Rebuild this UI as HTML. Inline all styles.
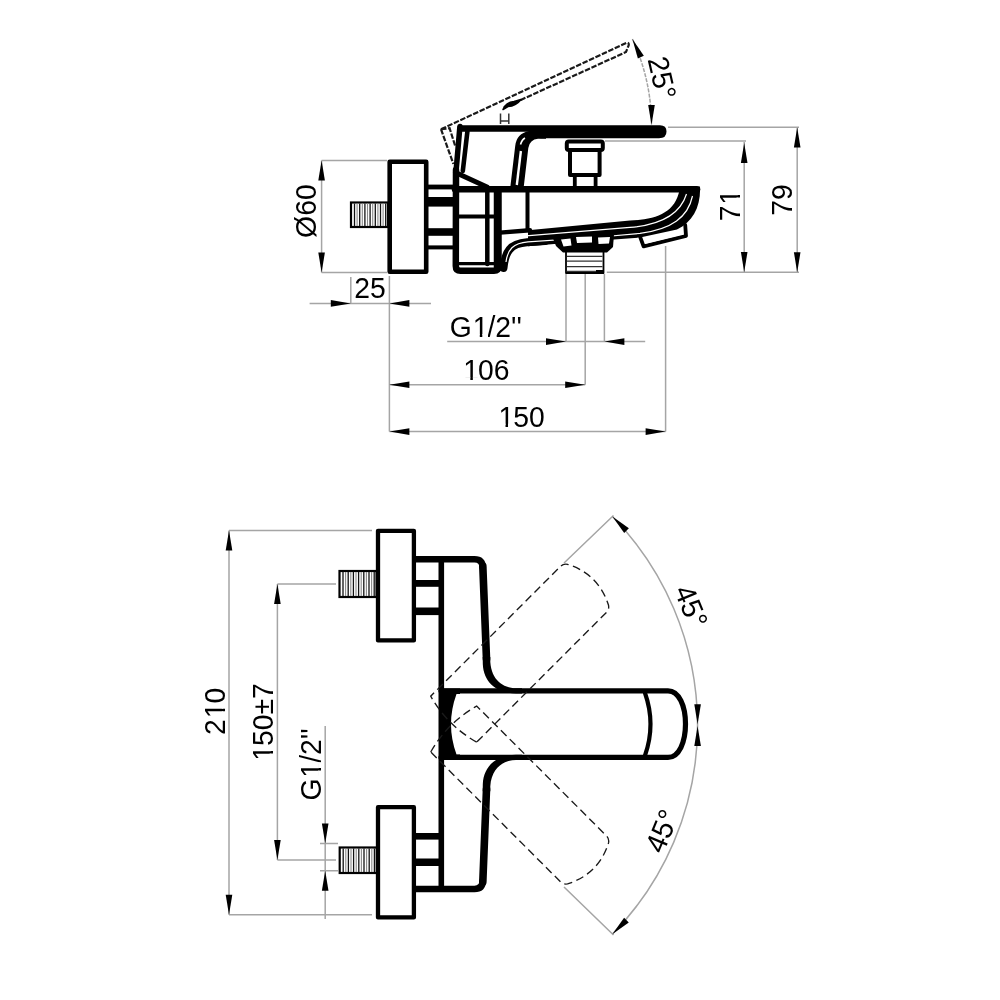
<!DOCTYPE html>
<html><head><meta charset="utf-8"><title>drawing</title>
<style>
html,body{margin:0;padding:0;background:#fff;overflow:hidden;}
svg{display:block;}
text{font-family:"Liberation Sans",sans-serif;font-size:28.3px;fill:#000;font-kerning:none;}
svg{-webkit-font-smoothing:antialiased;}
svg{will-change:transform;}
.k{fill:none;stroke:#000;stroke-linejoin:round;stroke-linecap:round;}
.d{fill:none;stroke:#a5a5a5;stroke-width:1.5;}
.h{fill:none;stroke:#1a1a1a;stroke-width:1.6;stroke-dasharray:8 4.5;}
.th{fill:none;stroke:#777;stroke-width:0.9;}
</style></head>
<body>
<svg width="1000" height="1000" viewBox="0 0 1000 1000">

<!-- ================= TOP VIEW ================= -->
<g id="top">
<!-- dimension lines -->
<g class="d">
  <!-- O60 -->
  <path d="M321.6,160.5 V272.5 M321.6,160.5 H387 M321.6,272.5 H387"/>
  <!-- 25 -->
  <path d="M309.6,303.4 H431 M350.8,277 V303.4 M389.4,276 V431.6"/>
  <!-- G1/2 -->
  <path d="M447.2,341.6 H645.2 M566,274 V341.6 M604.4,274 V341.6"/>
  <!-- 106 -->
  <path d="M389.4,384.8 H585.2 M585.2,274 V384.8"/>
  <!-- 150 -->
  <path d="M389.4,431.6 H665.6 M665.6,246 V431.6"/>
  <!-- 71 -->
  <path d="M744.2,142 V272 M605,140.9 H746"/>
  <!-- 79 -->
  <path d="M797.2,127.5 V272.2 M668,127.2 H799 M606.8,272.2 H799"/>
  <!-- 25 deg arc -->
  <path d="M632.4,39 A203.5,203.5 0 0 1 651.5,125" stroke-dasharray="4 1.2"/>
</g>
<path d="M0,0 L-20,-3.3 L-20,3.3 Z" transform="translate(321.6,160.5) rotate(-90)"/>
<path d="M0,0 L-20,-3.3 L-20,3.3 Z" transform="translate(321.6,272.5) rotate(90)"/>
<path d="M0,0 L-20,-3.3 L-20,3.3 Z" transform="translate(350.8,303.4)"/>
<path d="M0,0 L-20,-3.3 L-20,3.3 Z" transform="translate(389.4,303.4) rotate(180)"/>
<path d="M0,0 L-20,-3.3 L-20,3.3 Z" transform="translate(566,341.6)"/>
<path d="M0,0 L-20,-3.3 L-20,3.3 Z" transform="translate(604.4,341.6) rotate(180)"/>
<path d="M0,0 L-20,-3.3 L-20,3.3 Z" transform="translate(389.4,384.8) rotate(180)"/>
<path d="M0,0 L-20,-3.3 L-20,3.3 Z" transform="translate(585.2,384.8)"/>
<path d="M0,0 L-20,-3.3 L-20,3.3 Z" transform="translate(389.4,431.6) rotate(180)"/>
<path d="M0,0 L-20,-3.3 L-20,3.3 Z" transform="translate(665.6,431.6)"/>
<path d="M0,0 L-20,-3.3 L-20,3.3 Z" transform="translate(744.2,143) rotate(-90)"/>
<path d="M0,0 L-20,-3.3 L-20,3.3 Z" transform="translate(744.2,272) rotate(90)"/>
<path d="M0,0 L-20,-3.3 L-20,3.3 Z" transform="translate(797.2,127.5) rotate(-90)"/>
<path d="M0,0 L-20,-3.3 L-20,3.3 Z" transform="translate(797.2,272.2) rotate(90)"/>
<path d="M0,0 L-20,-3.3 L-20,3.3 Z" transform="translate(632.4,39) rotate(-115)"/>
<path d="M0,0 L-20,-3.3 L-20,3.3 Z" transform="translate(651.5,125) rotate(90)"/>


<!-- raised lever (dashed) -->
<g class="h" style="stroke-width:2.2;stroke-dasharray:5.5 1.6">
  <path d="M441,129.2 L627,42.5 Q630,43 628,47 L626,52 L504,107.6"/>
  <path d="M441,129.2 L453.4,164"/>
  <path d="M441,129.2 L449.6,128.2 L455.2,146"/>
</g>
<path d="M503,109.5 Q506,102 514,101.5 L521,99.5 Q516,106 508,106.5 Z" fill="#000" stroke="#000" stroke-width="1.5" stroke-linejoin="round"/>
<path d="M500.5,124 V113.5 M508.8,124 V113.5 M500.5,121 H508.8" fill="none" stroke="#333" stroke-width="1.5"/>

<!-- flange -->
<rect x="389.7" y="161.7" width="36.5" height="110.1" class="k" stroke-width="4.6"/>
<!-- thread -->
<g>
  <rect x="351" y="202.5" width="37" height="24.5" fill="#fff" stroke="#000" stroke-width="2.2"/>
  <path d="M354.5,203.5V226" stroke="#111" stroke-width="1.3"/>
  <path d="M357.1,203.5V226" stroke="#8a8a8a" stroke-width="1.1"/>
  <path d="M359.7,203.5V226" stroke="#111" stroke-width="1.3"/>
  <path d="M362.3,203.5V226" stroke="#8a8a8a" stroke-width="1.1"/>
  <path d="M364.9,203.5V226" stroke="#111" stroke-width="1.3"/>
  <path d="M367.5,203.5V226" stroke="#8a8a8a" stroke-width="1.1"/>
  <path d="M370.1,203.5V226" stroke="#111" stroke-width="1.3"/>
  <path d="M372.7,203.5V226" stroke="#8a8a8a" stroke-width="1.1"/>
  <path d="M375.3,203.5V226" stroke="#111" stroke-width="1.3"/>
  <path d="M377.9,203.5V226" stroke="#8a8a8a" stroke-width="1.1"/>
  <path d="M380.5,203.5V226" stroke="#111" stroke-width="1.3"/>
  <path d="M383.1,203.5V226" stroke="#8a8a8a" stroke-width="1.1"/>
  <path d="M385.7,203.5V226" stroke="#111" stroke-width="1.3"/>
</g>
<!-- nut bars -->
<g fill="#000">
  <rect x="426" y="184.6" width="28" height="4.8"/>
  <rect x="426" y="197" width="28" height="9.6"/>
  <rect x="426" y="228.2" width="28" height="7.6"/>
  <rect x="426" y="245.4" width="28" height="4"/>
</g>

<!-- handle top bar -->
<path d="M459,125.2 H660 Q666.5,125.2 666.5,131.5 Q666.5,138.3 659,138.3 H541 Q532,138.3 530,131.8 H462 Z" fill="#000"/>
<!-- handle left outer & body left line -->
<path class="k" stroke-width="5.5" d="M459.9,126.5 L456,172"/>
<path class="k" stroke-width="6.5" d="M456,170 L455.8,266 Q455.8,270.8 460.5,270.8 H494 Q498.5,270.8 498.5,266 V190"/>
<!-- handle inner line -->
<path class="k" stroke-width="4.6" d="M467.4,131.6 L462.8,171"/>
<!-- diagonal -->
<path class="k" stroke-width="5" d="M455.5,172.5 L487,187"/>
<!-- handle curved front wall -->
<path fill="#000" d="M510.2,188 L515.2,146 Q516.5,133.5 529,131 L546,131 L546,138.8 L538,138.8 Q529.8,139.5 528.3,148 L523.6,188 Z"/>
<path fill="none" stroke="#fff" stroke-width="2.4" d="M516.8,185 L520.9,151"/>
<path fill="none" stroke="#fff" stroke-width="1.6" d="M520.5,144.5 Q522,139.5 525,138"/>
<!-- body top line -->
<path class="k" stroke-width="6.5" d="M455,189.2 H697"/>
<!-- knob -->
<rect x="566.8" y="141.6" width="36" height="8.5" rx="2" class="k" stroke-width="4"/>
<path class="k" stroke-width="4" d="M570,151 V175 H599.6 V151"/>
<path class="k" stroke-width="3.8" d="M574.8,176 V187 M595.6,176 V187"/>

<!-- body block internals -->
<path class="k" stroke-width="4.5" d="M487.3,192 V264"/>
<path class="k" stroke-width="4" d="M458,216.5 H495"/>
<path class="k" stroke-width="3.4" d="M458,263.6 H495"/>
<path fill="none" stroke="#000" stroke-width="2.5" d="M495,192 V268"/>
<!-- vertical line in spout -->
<path class="k" stroke-width="4" d="M527.5,192 V230"/>

<!-- spout front band -->
<path fill="#000" d="M528,230.2 L630,220.6 C656,219.5 675,213 679.5,190 L700,186.5 C701,206 693,222 677,229.5 L640,237.5 L560,243.5 L528,246.3 Z"/>
<path class="k" stroke-width="4.4" d="M500,232.6 L530,230.3"/>
<path class="k" stroke-width="8" d="M503.5,268 C505,252 510,243.5 527,242.3 L545,241"/>
<path fill="none" stroke="#fff" stroke-width="1.2" d="M526,235.8 L630,227.4 C660,225 680,215 686.5,194"/>
<path fill="none" stroke="#fff" stroke-width="1.2" d="M506,262 C507.5,250 513,242.8 528,241.8 L600,237 L640,233.4 C672,229 688,217 692.5,196"/>
<!-- aerator -->
<path class="k" stroke-width="3.8" d="M640.4,237.6 L643.6,246.4 L686,236 L685.2,224.8"/>
<path fill="#fff" d="M644,240 L645.5,243.8 L682.5,234.5 L682,228.5 Z"/>

<!-- escutcheon -->
<path d="M552,236 L614,234.5 L613,247 L607,252.5 H563 L556,246 Z" fill="#000"/>
<path fill="#fff" d="M561,239.5 L570.5,238.5 L571.5,245.5 L563.5,246.5 Z M576,237 L592,236.5 L592,242.5 L577,243 Z M598,237.5 L610,237 L609,243.5 L598.5,244 Z"/>
<!-- thread under spout -->
<g>
  <path class="k" stroke-width="1.8" d="M566,252 V273 M603.5,252 V273 M566,273 H603.5"/>
  <path fill="none" stroke="#333" stroke-width="1.2" d="M567,256.4 H602.5 M567,261.2 H602.5 M567,266.6 H602.5 M567,271.4 H602.5"/>
  <rect x="596" y="270" width="8" height="4" fill="#000"/>
</g>
</g>

<!-- ================= BOTTOM VIEW ================= -->
<g id="bottom">
<g class="d">
  <!-- 210 -->
  <path d="M229,530.5 V914.8 M229,530.5 H372 M229,914.8 H372"/>
  <!-- 150+-7 -->
  <path d="M277.4,584 V860 M277.4,584 H336 M277.4,860 H336"/>
  <!-- G1/2 -->
  <path d="M325.2,726 V919 M320,843.4 H338 M320,870.7 H338"/>
  <!-- 45 arc -->
  <path d="M612.4,516.5 A298.7,298.7 0 0 1 612.3,934.3"/>
  <path d="M564,563 L613.5,515.5 M564,887 L613.5,935"/>
</g>
<path d="M0,0 L-20,-3.3 L-20,3.3 Z" transform="translate(229,530.5) rotate(-90)"/>
<path d="M0,0 L-20,-3.3 L-20,3.3 Z" transform="translate(229,914.8) rotate(90)"/>
<path d="M0,0 L-20,-3.3 L-20,3.3 Z" transform="translate(277.4,584) rotate(-90)"/>
<path d="M0,0 L-20,-3.3 L-20,3.3 Z" transform="translate(277.4,860) rotate(90)"/>
<path d="M0,0 L-20,-3.3 L-20,3.3 Z" transform="translate(325.2,843.4) rotate(90)"/>
<path d="M0,0 L-20,-3.3 L-20,3.3 Z" transform="translate(325.2,870.7) rotate(-90)"/>
<path d="M0,0 L-20,-3.3 L-20,3.3 Z" transform="translate(612.4,516.5) rotate(-135)"/>
<path d="M0,0 L-20,-3.3 L-20,3.3 Z" transform="translate(697.6,724.2) rotate(90)"/>
<path d="M0,0 L-20,-3.3 L-20,3.3 Z" transform="translate(697.6,726) rotate(-90)"/>
<path d="M0,0 L-20,-3.3 L-20,3.3 Z" transform="translate(612.3,934.3) rotate(135)"/>


<!-- flanges -->
<rect x="378" y="530.8" width="35.9" height="109.6" class="k" stroke-width="4.3"/>
<rect x="378" y="807.2" width="35.9" height="110.2" class="k" stroke-width="4.3"/>
<!-- threads -->
<g>
  <rect x="339.5" y="571" width="37" height="26" fill="#fff" stroke="#000" stroke-width="2.2"/>
  <path d="M343.0,572V596" stroke="#111" stroke-width="1.3"/>
  <path d="M345.6,572V596" stroke="#8a8a8a" stroke-width="1.1"/>
  <path d="M348.2,572V596" stroke="#111" stroke-width="1.3"/>
  <path d="M350.8,572V596" stroke="#8a8a8a" stroke-width="1.1"/>
  <path d="M353.4,572V596" stroke="#111" stroke-width="1.3"/>
  <path d="M356.0,572V596" stroke="#8a8a8a" stroke-width="1.1"/>
  <path d="M358.6,572V596" stroke="#111" stroke-width="1.3"/>
  <path d="M361.2,572V596" stroke="#8a8a8a" stroke-width="1.1"/>
  <path d="M363.8,572V596" stroke="#111" stroke-width="1.3"/>
  <path d="M366.4,572V596" stroke="#8a8a8a" stroke-width="1.1"/>
  <path d="M369.0,572V596" stroke="#111" stroke-width="1.3"/>
  <path d="M371.6,572V596" stroke="#8a8a8a" stroke-width="1.1"/>
  <path d="M374.2,572V596" stroke="#111" stroke-width="1.3"/>
  <rect x="339.7" y="847.5" width="37" height="25.5" fill="#fff" stroke="#000" stroke-width="2.2"/>
  <path d="M343.2,848.5V872" stroke="#111" stroke-width="1.3"/>
  <path d="M345.8,848.5V872" stroke="#8a8a8a" stroke-width="1.1"/>
  <path d="M348.4,848.5V872" stroke="#111" stroke-width="1.3"/>
  <path d="M351.0,848.5V872" stroke="#8a8a8a" stroke-width="1.1"/>
  <path d="M353.6,848.5V872" stroke="#111" stroke-width="1.3"/>
  <path d="M356.2,848.5V872" stroke="#8a8a8a" stroke-width="1.1"/>
  <path d="M358.8,848.5V872" stroke="#111" stroke-width="1.3"/>
  <path d="M361.4,848.5V872" stroke="#8a8a8a" stroke-width="1.1"/>
  <path d="M364.0,848.5V872" stroke="#111" stroke-width="1.3"/>
  <path d="M366.6,848.5V872" stroke="#8a8a8a" stroke-width="1.1"/>
  <path d="M369.2,848.5V872" stroke="#111" stroke-width="1.3"/>
  <path d="M371.8,848.5V872" stroke="#8a8a8a" stroke-width="1.1"/>
  <path d="M374.4,848.5V872" stroke="#111" stroke-width="1.3"/>
</g>
<!-- nut bars -->
<g fill="#000">
  <rect x="414" y="580" width="27" height="6.8"/>
  <rect x="414" y="607.5" width="27" height="7.6"/>
  <rect x="414" y="833" width="27" height="6.6"/>
  <rect x="414" y="858.5" width="27" height="7.5"/>
</g>
<!-- body left line -->
<path class="k" stroke-width="5.6" d="M441.3,559 V889"/>
<!-- body outline -->
<path class="k" stroke-width="6.6" stroke-linecap="butt" d="M416,559.2 H474.5 Q482.6,559.2 482.8,567.5 M482.8,880.7 Q482.6,889 474.5,889 H416"/>
<path class="k" stroke-width="7.6" stroke-linecap="butt" d="M482.8,566 L486.5,659 M486.5,789.2 L482.8,882.2"/>
<path fill="#000" d="M482.7,657 L482.8,664 C483.5,681 495,693.2 516,693.4 L522,693.4 L522,688.3 L516,688.3 C503,688 491.5,680 490.3,662 L490.3,657 Z"/>
<path fill="#000" d="M 482.7,791.2 L 482.8,784.2 C 483.5,767.2 495,755 516,754.8 L 522,754.8 L 522,759.9 L 516,759.9 C 503,760.2 491.5,768.2 490.3,786.2 L 490.3,791.2 Z"/>
<path class="k" stroke-width="5.2" d="M441,690.8 H668 C679,690.8 685.5,706 685.5,724.1 C685.5,742.2 679,757.4 668,757.4 H441"/>
<!-- lever near end -->
<path fill="#000" d="M443,688.4 L460,688.4 L460,694 L456.5,694 Q445.5,724.2 456.5,754.6 L460,754.6 L460,760 L443,760 Z"/>
<!-- lever inner arc -->
<path class="k" stroke-width="4.2" d="M645,693 Q656,724.2 645,755.5"/>

<!-- dashed rotated levers -->
<g class="h" style="stroke-width:1.35">
  <path transform="translate(448.75,724.1) rotate(-45)" d="M7,32.5 Q-2,0 7,-32.5 L191,-32.5 Q194.5,-32.5 197,-29 Q212,0 197,29 Q194.5,32.5 191,32.5 Z"/>
  <path transform="translate(448.75,724.1) rotate(45)" d="M7,32.5 Q-2,0 7,-32.5 L191,-32.5 Q194.5,-32.5 197,-29 Q212,0 197,29 Q194.5,32.5 191,32.5 Z"/>
</g>
</g>
<g id="texts">
<g transform="translate(306.40,211.20) rotate(-90) translate(-26.68,10.06) scale(1,1.03)"><text x="0" y="0" dx="0 0 0">Ø60</text></g>
<g transform="translate(370.20,287.90) rotate(0) translate(-15.86,10.03) scale(1,1.03)"><text x="0" y="0" dx="0 0">25</text></g>
<g transform="translate(485.80,326.60) rotate(0) translate(-36.08,10.42) scale(1,1.03)"><text x="0" y="0" dx="0 0.94 -0.94 0 0 0">G1/2&#39;&#39;</text><path fill="#fff" d="M24.20,1.20H30.07V-2.97H24.20Z M32.57,1.20H38.29V-2.97H32.57Z"/></g>
<g transform="translate(487.10,370.40) rotate(0) translate(-24.82,10.03) scale(1,1.03)"><text x="0" y="0" dx="0.94 -0.94 0">106</text><path fill="#fff" d="M2.18,1.20H8.06V-2.97H2.18Z M10.56,1.20H16.28V-2.97H10.56Z"/></g>
<g transform="translate(522.35,416.85) rotate(0) translate(-24.89,10.03) scale(1,1.03)"><text x="0" y="0" dx="0.94 -0.94 0">150</text><path fill="#fff" d="M2.18,1.20H8.06V-2.97H2.18Z M10.56,1.20H16.28V-2.97H10.56Z"/></g>
<g transform="translate(729.60,207.50) rotate(-90) translate(-13.87,10.03) scale(1,1.03)"><text x="0" y="0" dx="0 0.94">71</text><path fill="#fff" d="M17.92,1.20H23.80V-2.97H17.92Z M26.30,1.20H32.02V-2.97H26.30Z"/></g>
<g transform="translate(782.00,200.00) rotate(-90) translate(-15.79,10.03) scale(1,1.03)"><text x="0" y="0" dx="0 0">79</text></g>
<g transform="translate(662.00,77.80) rotate(77) translate(-21.26,10.03) scale(1,1.03)"><text x="0" y="0" dx="0 0 0">25°</text></g>
<g transform="translate(214.90,711.25) rotate(-90) translate(-23.77,10.03) scale(1,1.03)"><text x="0" y="0" dx="0 0.94 -0.94">210</text><path fill="#fff" d="M17.92,1.20H23.80V-2.97H17.92Z M26.30,1.20H32.02V-2.97H26.30Z"/></g>
<g transform="translate(262.70,721.30) rotate(-90) translate(-40.36,10.03) scale(1,1.03)"><text x="0" y="0" dx="0.94 -0.94 0 0 0">150±7</text><path fill="#fff" d="M2.18,1.20H8.06V-2.97H2.18Z M10.56,1.20H16.28V-2.97H10.56Z"/></g>
<g transform="translate(310.75,764.50) rotate(-90) translate(-36.08,10.42) scale(1,1.03)"><text x="0" y="0" dx="0 0.94 -0.94 0 0 0">G1/2&#39;&#39;</text><path fill="#fff" d="M24.20,1.20H30.07V-2.97H24.20Z M32.57,1.20H38.29V-2.97H32.57Z"/></g>
<g transform="translate(691.00,606.00) rotate(67.5) translate(-20.87,10.03) scale(1,1.03)"><text x="0" y="0" dx="0 0 0">45°</text></g>
<g transform="translate(661.80,831.60) rotate(-67.5) translate(-20.87,10.03) scale(1,1.03)"><text x="0" y="0" dx="0 0 0">45°</text></g>
</g>
</svg>
</body></html>
